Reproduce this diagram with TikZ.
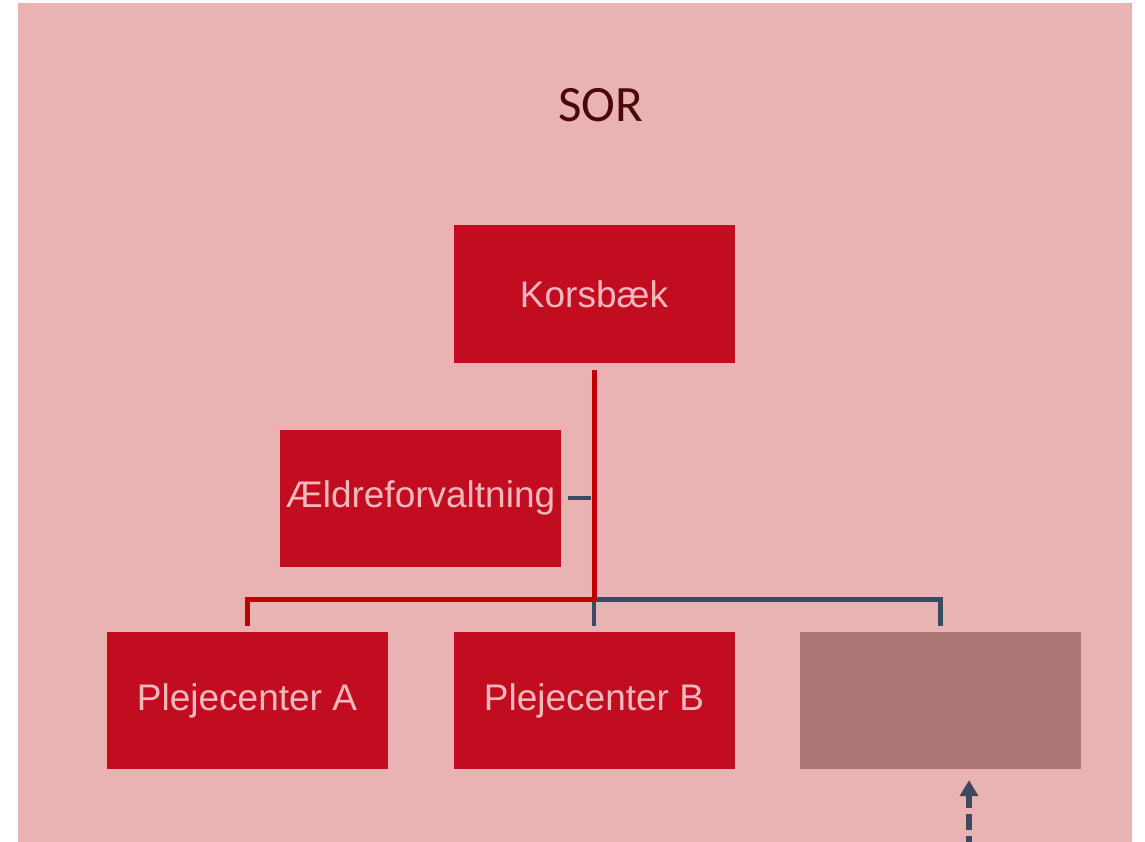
\documentclass[tikz,border=0pt]{standalone}
\usepackage{fontspec}
\setmainfont{Liberation Sans}
\newfontfamily\titlefont{Carlito}
\usetikzlibrary{calc,positioning,arrows.meta}
\definecolor{sorbg}{HTML}{EAB3B3}
\definecolor{unitred}{HTML}{C20C1F}
\definecolor{unittext}{HTML}{F2B8BE}
\definecolor{unitmauve}{HTML}{AD7674}
\definecolor{linkred}{HTML}{C00000}
\definecolor{linkdark}{HTML}{3B4A62}
\definecolor{titledark}{HTML}{4A0808}
\tikzset{
  unit/.style={fill=unitred, text=unittext, minimum width=281pt, minimum height=137pt,
    inner sep=0pt, font=\fontsize{37}{40}\selectfont},
  blankunit/.style={unit, fill=unitmauve},
  redlink/.style={draw=linkred, line width=5pt},
  darklink/.style={draw=linkdark, line width=4.5pt},
}

\begin{document}
\begin{tikzpicture}[x=1pt, y=-1pt]
			%%%%% START %%%%%
			\useasboundingbox (0, 0) rectangle (1145, 842);
			\fill[white] (0, 0) rectangle (1145, 842);
			\fill[sorbg] (18, 3) rectangle (1132, 842);
			
			\node[text=titledark, font=\titlefont\fontsize{51}{54}\selectfont] (sor) at (601, 105) {SOR};
			
			\node[unit] (kors) at (594, 294) {Korsbæk};
			\node[unit] (aeld) at (420.5, 498) {Ældreforvaltning};
			\node[unit] (plA) at (247, 700.5) {Plejecenter A};
			\node[unit] (plB) at (594, 700.5) {Plejecenter B};
			\node[blankunit] (blank) at (940.5, 700.5) {};
			
			\coordinate (hub) at (594, 599.5);
			\coordinate (feed) at (969, 852);
			
			\draw[darklink] (hub) -| ([yshift=6pt]blank.north);
			\draw[darklink] (hub) -- ([yshift=6pt]plB.north);
			\draw[darklink] ([xshift=7pt]aeld.east) -- ([xshift=-3pt]hub |- aeld.east);
			\draw[redlink] ([yshift=-7pt]kors.south) -- (hub) -| ([yshift=6pt]plA.north);
			
			\draw[darklink, line width=6pt, dash pattern=on 16pt off 6pt,
			  -{Triangle[width=18pt, length=16pt]}] (feed) -- ([xshift=28.5pt, yshift=-11pt]blank.south);
			
			%%%%% END %%%%%
		\end{tikzpicture}
\end{document}
